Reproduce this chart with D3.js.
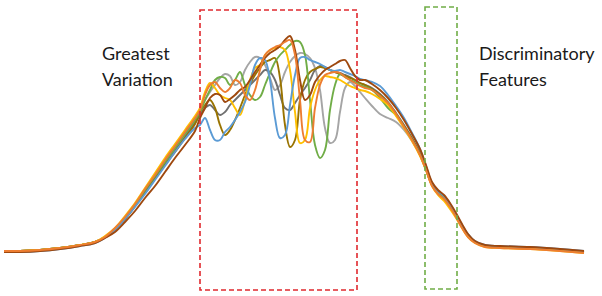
<!DOCTYPE html>
<html><head><meta charset="utf-8">
<script src="https://cdn.jsdelivr.net/npm/d3@7"></script>
<style>html,body{margin:0;padding:0;background:#fff;}svg{display:block;}</style>
</head><body>
<svg id="chart" width="602" height="296"></svg>
<script>
// channel positions (shared by all spectra)
const channels = [4,20,40,60,80,95,105,115,125,135,145,155,165,175,185,195,
 200,205,210,215,220,225,230,235,240,245,250,255,260,265,270,275,280,285,290,295,300,305,310,315,320,325,330,335,340,345,350,355,360,
 365,372,380,388,396,404,412,420,426,432,438,444,450,456,462,468,475,485,500,530,560,584];

const seriesNames = ["grey","darkgrey","olive","green","yellow","blue","brown","orange"];
const seriesColors = ["#a5a5a5","#707070","#997300","#70ad47","#ffc000","#5b9bd5","#9e480e","#ed7d31"];

const grey = [19,19,20,22,25,28,33,41,52,65,80,94,108,121,135,149,
 160,170,178,185,192,196,194,185,188,200,208,213,212,205,192,180,185,198,208,214,217,216,212,202,180,142,127,130,158,182,188,184,178,
 172,164,156,152,148,140,129,115,100,85,77,72,64,54,43,34,28,24,23,22,20,18];
const darkgrey = [19,19,20,22,25,28,33,41,51,64,78,92,106,119,133,147,
 155,162,165,160,155,158,165,170,175,180,185,190,195,200,198,190,175,162,160,167,175,182,190,200,204,203,200,198,197,195,193,190,187,
 185,182,176,168,157,145,132,117,102,86,78,73,65,55,44,35,28,24,23,22,20,18];
const olive = [19,19,20,22,25,28,33,41,51,64,78,92,105,118,132,146,
 158,165,170,162,145,135,140,150,162,175,186,195,202,208,210,212,192,145,123,130,170,190,198,201,203,202,200,198,196,194,192,190,187,
 185,181,175,167,156,144,131,116,101,85,77,72,64,54,43,34,28,24,23,22,20,18];
const green = [19,19,20,22,25,28,33,41,52,65,80,94,108,122,136,150,
 158,170,180,190,193,192,185,190,198,185,175,170,173,185,197,208,215,220,225,229,228,215,170,125,112,120,160,185,196,193,190,188,185,
 183,180,172,162,155,143,130,115,100,85,77,72,64,54,43,34,28,24,23,22,20,18];
const yellow = [19,19,20,22,25,28,34,42,54,67,82,97,112,126,140,154,
 162,178,187,182,175,172,170,162,155,170,190,202,205,215,220,222,223,220,200,158,127,130,162,180,190,194,193,192,190,187,184,182,180,
 179,176,171,165,154,142,129,114,100,84,75,69,61,52,42,33,27,23,22,21,19,17];
const blue = [18,18,19,21,24,27,32,40,51,63,76,90,104,118,131,142,
 145,152,140,130,130,138,143,150,158,168,185,205,212,210,190,152,132,135,165,195,212,213,210,208,206,203,200,199,200,198,196,194,191,
 190,188,184,175,164,152,137,121,104,87,79,74,66,56,45,36,29,25,24,23,21,19];
const brown = [18,18,19,21,24,27,32,38,48,59,72,84,98,112,125,139,
 152,162,172,176,175,168,171,175,180,183,190,198,205,212,217,220,224,230,234,220,190,170,175,188,195,200,203,206,209,210,202,194,190,
 190,186,180,172,162,150,136,121,105,88,80,75,67,57,46,36,29,25,24,23,21,19];
const orange = [19,19,20,22,25,28,33,42,53,66,81,95,110,124,138,152,
 160,175,185,188,182,178,182,190,187,175,170,180,200,215,220,223,225,228,230,215,170,130,128,162,185,195,197,198,197,193,190,187,184,
 182,180,174,167,156,143,130,115,100,84,76,71,63,53,42,33,27,23,22,21,19,17];

const seriesValues = [grey,darkgrey,olive,green,yellow,blue,brown,orange];

// highlighted regions (channel range, value range)
const regionX = [[200,357],[425,457]];
const regionY = [[-20,260],[-19,263]];
const regionColors = ["#e0282e","#70ad47"];

// annotation labels
const labelLines = [["Greatest","Variation"],["Discriminatory","Features"]];
const labelAnchorX = [102,479];
const labelAnchorY = [210,210];

const svg = d3.select("#chart");
const x = d3.scaleLinear().domain([0,600]).range([0,600]);
const y = d3.scaleLinear().domain([0,250]).range([270,20]);

const line = d3.line()
  .x((d,i)=>x(channels[i]))
  .y(d=>y(d))
  .curve(d3.curveCatmullRom.alpha(0.5));

svg.append("g").selectAll("path")
  .data(seriesValues)
  .join("path")
  .attr("fill","none")
  .attr("stroke",(d,i)=>seriesColors[i])
  .attr("stroke-width",1.9)
  .attr("stroke-linejoin","round")
  .attr("d",d=>line(d));

svg.append("g").selectAll("rect")
  .data(regionX)
  .join("rect")
  .attr("x",d=>x(d[0]))
  .attr("width",d=>x(d[1])-x(d[0]))
  .attr("y",(d,i)=>y(regionY[i][1]))
  .attr("height",(d,i)=>y(regionY[i][0])-y(regionY[i][1]))
  .attr("fill","none")
  .attr("stroke",(d,i)=>regionColors[i])
  .attr("stroke-width",1.6)
  .attr("stroke-dasharray","5,3");

const lab = svg.append("g").selectAll("text")
  .data(labelLines)
  .join("text")
  .attr("x",(d,i)=>x(labelAnchorX[i]))
  .attr("y",(d,i)=>y(labelAnchorY[i]))
  .attr("font-family","Lato, sans-serif")
  .attr("font-size",18)
  .attr("fill","#1a1a1a");
lab.selectAll("tspan")
  .data((d,i)=>d.map(t=>({t,i})))
  .join("tspan")
  .attr("x",d=>x(labelAnchorX[d.i]))
  .attr("dy",(d,j)=>j===0?0:26)
  .text(d=>d.t);
</script>
</body></html>
